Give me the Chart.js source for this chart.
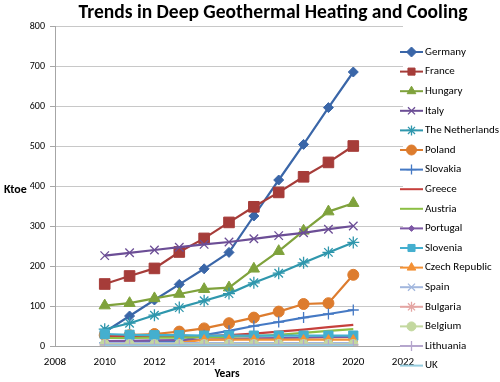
<!DOCTYPE html>
<html>
<head>
<meta charset="utf-8">
<script src="https://cdn.jsdelivr.net/npm/chart.js@4.4.1/dist/chart.umd.min.js"></script>
<style>
  html, body { margin: 0; padding: 0; background: #fff; }
  #wrap { width: 500px; height: 382px; position: relative; }
</style>
</head>
<body>
<div id="wrap"><canvas id="geoChart" width="500" height="382"></canvas></div>
<script>
// datos (Ktoe)
const years = [2010, 2011, 2012, 2013, 2014, 2015, 2016, 2017, 2018, 2019, 2020];
const xTicks = [2008, 2010, 2012, 2014, 2016, 2018, 2020, 2022];
const yTicks = [0, 100, 200, 300, 400, 500, 600, 700, 800];

const germany     = [35, 75, 115, 154, 193, 234, 325, 415, 504, 596, 685];
const france      = [155, 175, 194, 235, 269, 309, 348, 384, 423, 459, 500];
const hungary     = [101, 107, 119, 130, 142, 146, 193, 237, 288, 336, 357];
const italy       = [226, 233, 240, 247, 254, 260, 268, 276, 283, 292, 300];
const netherlands = [42, 57, 77, 96, 113, 131, 158, 182, 208, 234, 259];
const poland      = [27, 27, 30, 36, 44, 57, 71, 86, 105, 107, 178];
const slovakia    = [8, 9, 10, 12, 27, 38, 50, 60, 71, 80, 90];
const greece      = [24, 24, 24, 24, 25, 27, 31, 36, 41, 47, 53];
const austria     = [20, 20, 21, 21, 22, 23, 25, 28, 33, 38, 42];
const portugal    = [12, 13, 14, 15, 16, 17, 19, 20, 21, 22, 23];
const slovenia    = [30, 28, 27, 27, 26, 26, 26, 26, 26, 26, 26];
const czech       = [1, 1, 1, 8, 16, 16, 16, 16, 16, 16, 16];
const spain       = [7, 7, 7, 7, 7, 7, 7, 7, 7, 7, 7];
const bulgaria    = [2, 2, 2, 3, 3, 3, 3, 3, 3, 3, 3];
const belgium     = [5, 5, 5, 5, 5, 5, 5, 5, 5, 5, 5];
const lithuania   = [3, 3, 3, 3, 3, 3, 3, 3, 3, 3, 3];
const uk          = [1, 1, 1, 1, 1, 1, 1, 1, 1, 1, 1];

const seriesNames = ['Germany', 'France', 'Hungary', 'Italy', 'The Netherlands', 'Poland', 'Slovakia',
    'Greece', 'Austria', 'Portugal', 'Slovenia', 'Czech Republic', 'Spain', 'Bulgaria', 'Belgium',
    'Lithuania', 'UK'];
const seriesValues = [germany, france, hungary, italy, netherlands, poland, slovakia, greece, austria,
    portugal, slovenia, czech, spain, bulgaria, belgium, lithuania, uk];

// estilos por serie
const estilos = [
    { color: '#3A66A8', punto: 'rectRot', r: 5 },
    { color: '#A63C39', punto: 'rect', r: 7.5 },
    { color: '#7FA23C', punto: 'triangle', r: 6.5 },
    { color: '#6C4E96', punto: 'crossRot', r: 6 },
    { color: '#2F97AD', punto: 'star', r: 6 },
    { color: '#DD7C2E', punto: 'circle', r: 5.5 },
    { color: '#4579C4', punto: 'cross', r: 5.5 },
    { color: '#C6403C', punto: false, r: 0 },
    { color: '#8CBF44', punto: false, r: 0 },
    { color: '#7D58A5', punto: 'rectRot', r: 3 },
    { color: '#44AFCF', punto: 'rect', r: 6.5 },
    { color: '#F39135', punto: 'triangle', r: 5 },
    { color: '#A2B7DE', punto: 'crossRot', r: 5 },
    { color: '#E4A5A3', punto: 'star', r: 5 },
    { color: '#C3D89F', punto: 'circle', r: 4.5 },
    { color: '#B5A6CD', punto: 'cross', r: 5 },
    { color: '#96CDDF', punto: false, r: 0 }
];

function esLinea(p) {
    return p === 'cross' || p === 'crossRot' || p === 'star';
}

const datasets = seriesNames.map(function(nombre, i) {
    const e = estilos[i];
    return {
        label: nombre,
        data: years.map((y, k) => ({ x: y, y: seriesValues[i][k] })),
        borderColor: e.color,
        backgroundColor: e.color,
        borderWidth: 2.2,
        pointStyle: e.punto,
        pointRadius: e.r,
        pointHoverRadius: e.r,
        pointBackgroundColor: e.color,
        pointBorderColor: e.color,
        pointBorderWidth: esLinea(e.punto) ? 1.3 : 1,
        tension: 0,
        order: seriesNames.length - i
    };
});

const FUENTE = "Carlito, 'Liberation Sans Narrow', 'Open Sans', sans-serif";

// titulo, ejes y leyenda dibujados a mano
const textosPlugin = {
    id: 'textos',
    afterDraw(chart) {
        const ctx = chart.ctx;
        ctx.save();
        ctx.fillStyle = '#000';
        ctx.textBaseline = 'middle';

        ctx.font = "bold 19.5px Carlito, 'Open Sans', sans-serif";
        ctx.textAlign = 'center';
        ctx.fillText('Trends in Deep Geothermal Heating and Cooling', 273, 13);

        ctx.font = 'bold 11.5px ' + FUENTE;
        ctx.fillText('Years', 227, 374);
        ctx.textAlign = 'left';
        ctx.font = 'bold 12px ' + FUENTE;
        ctx.fillText('Ktoe', 4, 190);

        // leyenda
        ctx.font = '11px ' + FUENTE;
        chart.data.datasets.forEach(function(ds, i) {
            const y = 52 + i * 19.6;
            ctx.strokeStyle = ds.borderColor;
            ctx.lineWidth = 2;
            ctx.beginPath();
            ctx.moveTo(400, y);
            ctx.lineTo(423, y);
            ctx.stroke();
            if (ds.pointStyle) {
                ctx.fillStyle = ds.pointBackgroundColor;
                ctx.strokeStyle = ds.pointBorderColor;
                ctx.lineWidth = ds.pointBorderWidth;
                Chart.helpers.drawPoint(ctx, {
                    pointStyle: ds.pointStyle,
                    radius: Math.min(ds.pointRadius, 5),
                    borderWidth: ds.pointBorderWidth,
                    rotation: 0
                }, 411.5, y);
            }
            ctx.fillStyle = '#000';
            ctx.fillText(ds.label, 425, y);
        });
        ctx.restore();
    }
};

const ctx = document.getElementById('geoChart').getContext('2d');
new Chart(ctx, {
    type: 'line',
    data: { datasets: datasets },
    options: {
        responsive: false,
        animation: false,
        events: [],
        layout: { padding: { left: 0, right: 97, top: 26, bottom: 0 } },
        plugins: {
            legend: { display: false },
            title: { display: false },
            tooltip: { enabled: false }
        },
        scales: {
            x: {
                type: 'linear',
                min: 2008,
                max: 2022,
                afterBuildTicks: function(s) { s.ticks = xTicks.map(v => ({ value: v })); },
                afterFit: function(s) { s.height = 36; },
                grid: { display: false, drawTicks: false },
                border: { display: true, color: '#A6A6A6', width: 1 },
                ticks: {
                    padding: 10,
                    color: '#000',
                    font: { family: FUENTE, size: 11 },
                    callback: v => String(v)
                }
            },
            y: {
                min: 0,
                max: 800,
                afterBuildTicks: function(s) { s.ticks = yTicks.map(v => ({ value: v })); },
                afterFit: function(s) { s.width = 55; },
                grid: { color: '#C8C8C8', lineWidth: 1, tickLength: 5, drawTicks: true, tickColor: '#A6A6A6' },
                border: { display: true, color: '#A6A6A6', width: 1 },
                ticks: {
                    padding: 5,
                    color: '#000',
                    font: { family: FUENTE, size: 10 }
                }
            }
        }
    },
    plugins: [textosPlugin]
});
</script>
</body>
</html>
